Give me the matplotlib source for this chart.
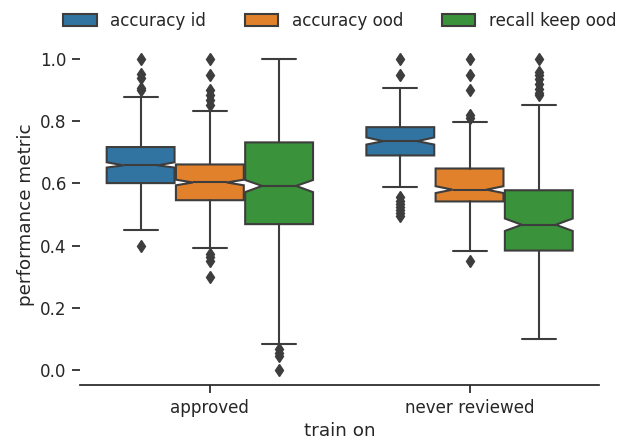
import matplotlib
matplotlib.use("Agg")
import matplotlib.pyplot as plt
import matplotlib.patches as mpatches
import seaborn as sns
import colorsys

sns.set_theme(style="ticks", context="notebook", font_scale=1.1)
plt.rcParams["font.family"] = ["DejaVu Sans"]

# Groups on the x axis and the metrics shown as hue
groups = ["approved", "never reviewed"]
metrics = ["accuracy id", "accuracy ood", "recall keep ood"]

# Box statistics per metric, one value per group
q1 = {
    "accuracy id": [0.601, 0.690],
    "accuracy ood": [0.546, 0.542],
    "recall keep ood": [0.469, 0.384],
}
median = {
    "accuracy id": [0.658, 0.736],
    "accuracy ood": [0.603, 0.580],
    "recall keep ood": [0.592, 0.467],
}
q3 = {
    "accuracy id": [0.717, 0.781],
    "accuracy ood": [0.661, 0.648],
    "recall keep ood": [0.732, 0.578],
}
ci_low = {
    "accuracy id": [0.651, 0.725],
    "accuracy ood": [0.594, 0.569],
    "recall keep ood": [0.572, 0.447],
}
ci_high = {
    "accuracy id": [0.668, 0.748],
    "accuracy ood": [0.612, 0.591],
    "recall keep ood": [0.611, 0.487],
}
whisker_low = {
    "accuracy id": [0.449, 0.588],
    "accuracy ood": [0.393, 0.382],
    "recall keep ood": [0.082, 0.100],
}
whisker_high = {
    "accuracy id": [0.879, 0.906],
    "accuracy ood": [0.833, 0.798],
    "recall keep ood": [1.000, 0.853],
}
outliers = {
    "accuracy id": [
        [1.0, 0.953, 0.940, 0.906, 0.900, 0.40],
        [1.0, 0.950, 0.555, 0.545, 0.535, 0.525, 0.515, 0.505, 0.495],
    ],
    "accuracy ood": [
        [1.0, 0.950, 0.900, 0.885, 0.870, 0.852, 0.374, 0.362, 0.350, 0.300],
        [1.0, 0.950, 0.900, 0.820, 0.812, 0.350],
    ],
    "recall keep ood": [
        [0.068, 0.055, 0.046, 0.0],
        [1.0, 0.960, 0.950, 0.935, 0.920, 0.905, 0.890, 0.885],
    ],
}

base = sns.color_palette("tab10", 3)
colors = [sns.desaturate(c, 0.75) for c in base]
lum = min(colorsys.rgb_to_hls(*c)[1] for c in colors) * 0.6
gray = (lum, lum, lum)

fig = plt.figure(figsize=(6.32, 4.4), dpi=100)
ax = fig.add_axes([0.1266, 0.124, 0.8218, 0.777])

group_width = 0.8
n = len(metrics)
box_w = group_width / n * 0.98
lw = plt.rcParams["lines.linewidth"]

for j, m in enumerate(metrics):
    offset = -group_width / 2 + group_width / n * (j + 0.5)
    stats = []
    for i in range(len(groups)):
        stats.append(dict(
            med=median[m][i], q1=q1[m][i], q3=q3[m][i],
            cilo=ci_low[m][i], cihi=ci_high[m][i],
            whislo=whisker_low[m][i], whishi=whisker_high[m][i],
            fliers=outliers[m][i],
        ))
    positions = [i + offset for i in range(len(groups))]
    ax.bxp(
        stats, positions=positions, widths=box_w, shownotches=True,
        patch_artist=True, manage_ticks=False,
        boxprops=dict(facecolor=colors[j], edgecolor=gray, linewidth=lw),
        medianprops=dict(color=gray, linewidth=lw),
        whiskerprops=dict(color=gray, linewidth=lw),
        capprops=dict(color=gray, linewidth=lw),
        flierprops=dict(marker="d", markerfacecolor=gray, markeredgecolor=gray,
                        markersize=6, linestyle="none"),
    )

ax.set_xlim(-0.5, 1.5)
ax.set_ylim(-0.05, 1.05)
ax.set_xticks(range(len(groups)))
ax.set_xticklabels(groups)
ax.set_yticks([0.0, 0.2, 0.4, 0.6, 0.8, 1.0])
ax.set_xlabel("train on")
ax.set_ylabel("performance metric")
sns.despine(ax=ax, left=True)

handles = [mpatches.Patch(facecolor=colors[j], edgecolor=gray, linewidth=lw, label=m)
           for j, m in enumerate(metrics)]
ax.legend(handles=handles, loc="lower center", bbox_to_anchor=(0.5, 1.02),
          ncol=3, frameon=False, borderaxespad=0.0, columnspacing=2.3)

fig.savefig("out.png", dpi=100)
